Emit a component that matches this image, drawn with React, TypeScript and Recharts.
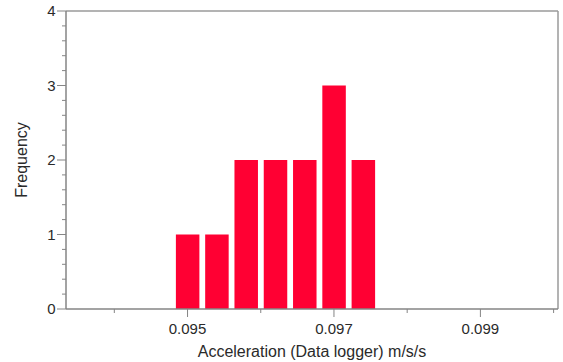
import React from 'react';
import { ComposedChart, Bar, XAxis, YAxis, ReferenceLine } from 'recharts';

const binCenters = [0.095, 0.0954, 0.0958, 0.0962, 0.0966, 0.097, 0.0974];
const frequencies = [1, 1, 2, 2, 2, 3, 2];
const xTicks = [0.094, 0.095, 0.096, 0.097, 0.098, 0.099, 0.1];
const xLabeledTicks = [0.095, 0.097, 0.099];
const yTicks = [0, 0.2, 0.4, 0.6, 0.8, 1, 1.2, 1.4, 1.6, 1.8, 2, 2.2, 2.4, 2.6, 2.8, 3, 3.2, 3.4, 3.6, 3.8, 4];
const yLabeledTicks = [0, 1, 2, 3, 4];
const xDomain = [0.09334, 0.10006];
const yDomain = [0, 4];

const data = binCenters.map((x, i) => ({ x, freq: frequencies[i] }));

const AXIS = '#858585';
const TEXT = '#2a2a2a';
const FONT = '"Liberation Sans", Arial, sans-serif';
const near = (a: number, list: number[]) => list.some((v) => Math.abs(v - a) < 1e-9);

const XTick = (props: any) => {
  const { x, y, payload } = props;
  const major = near(payload.value, xLabeledTicks);
  return (
    <g>
      <line x1={x} x2={x} y1={y} y2={y + (major ? 8 : 4)} stroke={AXIS} strokeWidth={1} />
      {major && (
        <text x={x} y={y + 24.5} textAnchor="middle" fill={TEXT} fontSize={15} fontFamily={FONT}>
          {payload.value.toFixed(3)}
        </text>
      )}
    </g>
  );
};

const YTick = (props: any) => {
  const { x, y, payload } = props;
  const major = near(payload.value, yLabeledTicks);
  return (
    <g>
      <line x1={x} x2={x - (major ? 9 : 4)} y1={y} y2={y} stroke={AXIS} strokeWidth={1} />
      {major && (
        <text x={x - 10.5} y={y} dy="0.36em" textAnchor="end" fill={TEXT} fontSize={15} fontFamily={FONT}>
          {String(Math.round(payload.value))}
        </text>
      )}
    </g>
  );
};

export default function App() {
  return (
    <div style={{ position: 'absolute', left: 0, top: 0, width: 563, height: 362, background: '#fff' }}>
      <ComposedChart width={563} height={362} data={data} margin={{ top: 11, right: 5, bottom: 0, left: 0 }}>
        <XAxis
          dataKey="x"
          type="number"
          domain={xDomain}
          allowDataOverflow
          ticks={xTicks}
          interval={0}
          height={53}
          tickLine={false}
          tickSize={0}
          tickMargin={0}
          axisLine={{ stroke: AXIS, strokeWidth: 1.5 }}
          tick={<XTick />}
          label={{ value: 'Acceleration (Data logger) m/s/s', position: 'insideBottom', offset: 5, fill: TEXT, fontSize: 16, fontFamily: FONT }}
        />
        <YAxis
          type="number"
          domain={yDomain}
          ticks={yTicks}
          interval={0}
          width={66}
          tickLine={false}
          tickSize={0}
          tickMargin={0}
          axisLine={{ stroke: AXIS, strokeWidth: 1.5 }}
          tick={<YTick />}
          label={{
            content: () => (
              <text x={27} y={160} transform="rotate(-90 27 160)" textAnchor="middle" fill={TEXT} fontSize={16} fontFamily={FONT}>
                Frequency
              </text>
            ),
          }}
        />
        <ReferenceLine y={4} stroke="#9a9a9a" strokeWidth={1.5} ifOverflow="visible" />
        <ReferenceLine x={xDomain[1]} stroke="#9a9a9a" strokeWidth={1.5} ifOverflow="visible" />
        <Bar dataKey="freq" fill="#FF0033" barSize={23.5} isAnimationActive={false} />
      </ComposedChart>
    </div>
  );
}
